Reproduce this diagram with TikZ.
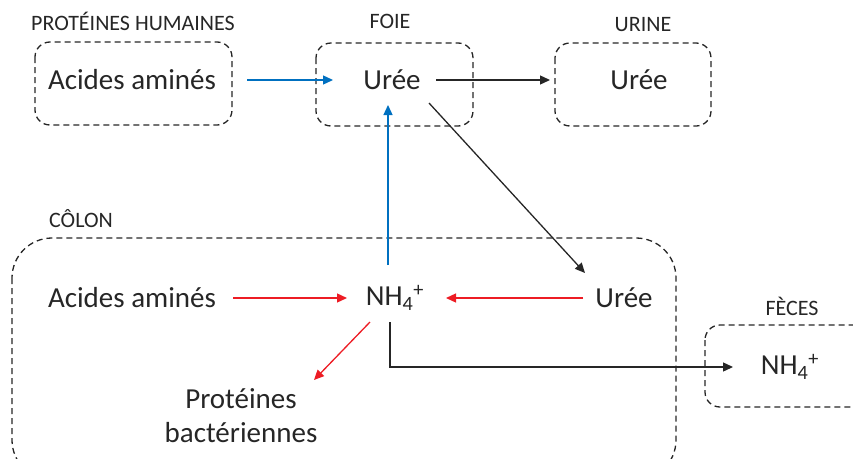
\documentclass[tikz,border=0pt]{standalone}
\usepackage{fontspec}
\setmainfont{Carlito}
\usetikzlibrary{arrows.meta}
\definecolor{bleu}{RGB}{0,112,192}
\definecolor{rouge}{RGB}{237,28,36}
\definecolor{gris}{RGB}{38,38,38}
\newcommand{\ammonium}{NH\textsubscript{4}\textsuperscript{+}}
\begin{document}
\begin{tikzpicture}[x=1pt,y=-1pt,
  boite/.style={draw=gris, dash pattern=on 6pt off 4pt, line width=1.3pt, rounded corners=15pt},
  txt/.style={text=gris, font=\fontsize{29}{34}\selectfont, inner sep=0pt},
  titre/.style={text=gris, font=\fontsize{22}{24}\selectfont, inner sep=0pt},
  fl/.style={-{Triangle[length=10pt,width=9pt]}, line width=1.3pt}]
  \useasboundingbox (0,0) rectangle (853,458);
  \clip (0,0) rectangle (853,458);
  % Boites
  \draw[boite] (35,42) rectangle (232,125);
  \draw[boite] (316,43) rectangle (473,126);
  \draw[boite] (555,43) rectangle (711,126);
  \draw[boite, rounded corners=40pt] (12,238) rectangle (676,480);
  \draw[boite] (705,325) rectangle (880,407);
  % Titres
  \node[titre] (t1) at (133,21) {PROTÉINES HUMAINES};
  \node[titre] (t2) at (390,21) {FOIE};
  \node[titre] (t3) at (643,25) {URINE};
  \node[titre] (t4) at (81,219) {CÔLON};
  \node[titre] (t5) at (792,306) {FÈCES};
  % Textes
  \node[txt] (aa1) at (132,80) {Acides aminés};
  \node[txt] (ur1) at (392,80) {Urée};
  \node[txt] (ur2) at (639,80) {Urée};
  \node[txt] (aa2) at (132,298) {Acides aminés};
  \node[txt] (nh1) at (395,298) {\ammonium};
  \node[txt] (ur3) at (624,298) {Urée};
  \node[txt, align=center] (pb) at (241,416) {Protéines\\bactériennes};
  \node[txt] (nh2) at (790,367) {\ammonium};
  % Fleches bleues
  \draw[fl,bleu] ([xshift=115pt]aa1.center) -- ([xshift=-59pt]ur1.center);
  \draw[fl,bleu] ([xshift=-7pt,yshift=33pt]nh1.center) -- ([xshift=-4pt,yshift=-25pt]ur1.center);
  % Fleches noires
  \draw[fl,gris] ([xshift=44pt]ur1.center) -- ([xshift=-89pt]ur2.center);
  \draw[fl,gris] ([xshift=37pt,yshift=-23pt]ur1.center) -- ([xshift=-39pt,yshift=25pt]ur3.center);
  \draw[fl,gris] ([xshift=-5pt,yshift=-24pt]nh1.center) |- ([xshift=-57pt]nh2.center);
  % Fleches rouges
  \draw[fl,rouge] ([xshift=101pt]aa2.center) -- ([xshift=-48pt]nh1.center);
  \draw[fl,rouge] ([xshift=-41pt]ur3.center) -- ([xshift=51pt]nh1.center);
  \draw[fl,rouge] ([xshift=-25pt,yshift=-24pt]nh1.center) -- ([xshift=73pt,yshift=36pt]pb.center);
\end{tikzpicture}
\end{document}
